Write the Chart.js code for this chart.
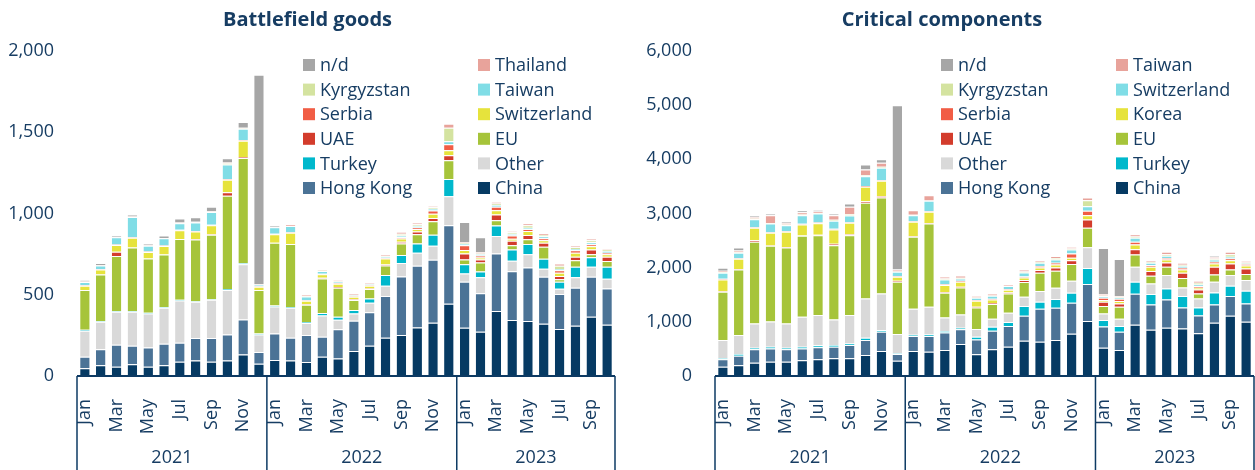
<!DOCTYPE html>
<html>
<head>
<meta charset="utf-8">
<title>Battlefield goods / Critical components</title>
<script src="https://cdn.jsdelivr.net/npm/chart.js@4.4.0/dist/chart.umd.min.js"></script>
<style>
  html, body { margin: 0; padding: 0; background: #ffffff; }
  #wrap { position: relative; width: 1255px; height: 470px; }
  canvas { position: absolute; top: 0; }
  #bfChart { left: 0; }
  #ccChart { left: 630px; }
</style>
</head>
<body>
<div id="wrap">
  <canvas id="bfChart" width="630" height="470"></canvas>
  <canvas id="ccChart" width="625" height="470"></canvas>
</div>
<script>
// categories
const monthNames = ['Jan', 'Feb', 'Mar', 'Apr', 'May', 'Jun', 'Jul', 'Aug', 'Sep', 'Oct', 'Nov', 'Dec'];
const years = ['2021', '2022', '2023'];
const monthsPerYear = [12, 12, 10];

// Battlefield goods (stack order, bottom to top)
const bfNames = ['China', 'Hong Kong', 'Other', 'Turkey', 'EU', 'UAE', 'Switzerland', 'Serbia', 'Taiwan', 'Kyrgyzstan', 'Thailand', 'n/d'];
const bfChina = [47, 66, 57, 72, 57, 66, 88, 96, 88, 96, 133, 76, 98, 96, 86, 119, 107, 154, 186, 236, 252, 299, 328, 445, 297, 273, 400, 344, 338, 322, 289, 309, 365, 316];
const bfHongKong = [72, 98, 136, 114, 119, 133, 117, 138, 146, 160, 215, 72, 164, 140, 166, 123, 180, 186, 207, 256, 361, 379, 387, 483, 283, 237, 354, 301, 330, 289, 215, 234, 246, 223];
const bfOther = [160, 170, 202, 209, 209, 221, 260, 223, 235, 273, 340, 108, 166, 184, 74, 131, 59, 45, 58, 63, 82, 80, 86, 178, 51, 97, 107, 64, 82, 49, 33, 64, 61, 59];
const bfTurkey = [5, 4, 5, 5, 4, 4, 5, 3, 3, 6, 7, 6, 6, 5, 6, 14, 19, 21, 26, 66, 49, 57, 68, 107, 57, 36, 65, 70, 63, 61, 43, 65, 59, 74];
const bfEU = [245, 287, 338, 391, 334, 324, 373, 380, 397, 574, 647, 267, 386, 388, 106, 213, 178, 61, 58, 59, 71, 58, 84, 115, 29, 56, 33, 26, 29, 74, 16, 41, 19, 35];
const bfUAE = [0, 0, 26, 0, 0, 0, 0, 3, 4, 22, 6, 0, 0, 0, 3, 4, 5, 5, 4, 6, 11, 16, 20, 31, 37, 18, 35, 27, 25, 25, 19, 21, 29, 27];
const bfSwitzerland = [26, 30, 42, 60, 40, 52, 54, 46, 55, 76, 100, 20, 52, 68, 22, 22, 20, 16, 16, 37, 20, 15, 25, 30, 21, 12, 26, 12, 26, 16, 20, 24, 20, 16];
const bfSerbia = [3, 3, 3, 3, 3, 3, 3, 3, 3, 5, 4, 3, 4, 4, 3, 3, 4, 3, 4, 4, 8, 10, 20, 37, 30, 13, 21, 21, 10, 12, 16, 16, 12, 8];
const bfTaiwan = [20, 22, 45, 125, 36, 44, 40, 52, 78, 90, 70, 9, 40, 38, 24, 17, 8, 5, 6, 8, 10, 10, 12, 19, 8, 8, 12, 10, 10, 12, 8, 8, 12, 12];
const bfKyrgyzstan = [0, 0, 0, 0, 0, 0, 2, 2, 2, 8, 3, 0, 0, 0, 3, 3, 3, 3, 3, 3, 12, 10, 8, 82, 4, 4, 8, 10, 14, 8, 20, 10, 12, 8];
const bfThailand = [4, 3, 3, 3, 3, 3, 3, 3, 3, 4, 3, 3, 3, 8, 5, 6, 6, 5, 6, 6, 10, 8, 8, 26, 7, 8, 11, 6, 13, 9, 14, 11, 10, 6];
const bfNd = [8, 12, 10, 12, 10, 15, 24, 28, 28, 26, 35, 1290, 8, 0, 0, 0, 0, 0, 0, 0, 0, 0, 0, 0, 123, 92, 0, 0, 0, 0, 0, 0, 0, 0];

// Critical components (stack order, bottom to top)
const ccNames = ['China', 'Hong Kong', 'Turkey', 'Other', 'EU', 'UAE', 'Korea', 'Serbia', 'Switzerland', 'Kyrgyzstan', 'Taiwan', 'n/d'];
const ccChina = [172, 197, 246, 264, 264, 289, 307, 326, 326, 387, 461, 283, 461, 449, 480, 590, 400, 492, 541, 652, 633, 664, 781, 1014, 523, 480, 947, 855, 891, 879, 787, 984, 1113, 1002];
const ccHongKong = [135, 178, 246, 246, 228, 221, 222, 215, 246, 277, 357, 123, 277, 289, 325, 271, 276, 344, 381, 461, 609, 596, 572, 683, 393, 338, 572, 467, 523, 387, 332, 338, 363, 338];
const ccTurkey = [25, 31, 31, 31, 31, 31, 37, 31, 30, 43, 30, 12, 24, 30, 25, 30, 49, 74, 74, 178, 129, 160, 184, 295, 117, 104, 221, 190, 203, 210, 147, 221, 190, 234];
const ccOther = [332, 350, 448, 467, 448, 553, 559, 473, 523, 725, 677, 357, 480, 511, 252, 246, 142, 147, 172, 172, 197, 209, 221, 387, 123, 135, 277, 197, 246, 159, 166, 197, 197, 197];
const ccEU = [891, 1211, 1507, 1396, 1402, 1494, 1475, 1371, 1475, 1765, 1770, 965, 1328, 1537, 455, 498, 399, 271, 357, 271, 338, 314, 308, 357, 135, 222, 227, 142, 154, 173, 93, 135, 104, 110];
const ccUAE = [8, 8, 30, 6, 10, 6, 8, 25, 19, 31, 25, 18, 10, 10, 12, 12, 12, 18, 18, 37, 49, 61, 73, 154, 80, 61, 98, 86, 79, 98, 73, 142, 111, 105];
const ccKorea = [220, 189, 228, 234, 279, 203, 214, 264, 209, 264, 283, 74, 267, 205, 129, 93, 111, 68, 49, 49, 49, 56, 44, 79, 31, 43, 86, 80, 56, 61, 31, 61, 61, 55];
const ccSerbia = [12, 12, 12, 12, 12, 12, 10, 12, 12, 18, 12, 12, 12, 12, 15, 18, 12, 12, 12, 18, 25, 31, 79, 80, 43, 43, 50, 31, 25, 31, 31, 31, 31, 24];
const ccSwitzerland = [111, 99, 148, 160, 111, 161, 168, 148, 123, 179, 228, 80, 111, 191, 90, 43, 44, 56, 56, 74, 61, 61, 74, 86, 31, 25, 73, 42, 42, 37, 31, 43, 31, 13];
const ccKyrgyzstan = [12, 8, 12, 10, 12, 12, 8, 18, 25, 18, 18, 6, 6, 6, 18, 12, 6, 6, 6, 18, 18, 25, 18, 111, 12, 12, 25, 18, 31, 18, 31, 18, 49, 18];
const ccTaiwan = [25, 35, 31, 144, 31, 43, 27, 87, 135, 105, 74, 37, 86, 98, 31, 44, 25, 37, 31, 37, 31, 36, 31, 49, 24, 13, 43, 31, 43, 37, 36, 25, 43, 31];
const ccNd = [55, 55, 31, 24, 31, 31, 30, 24, 62, 92, 67, 3031, 0, 0, 0, 0, 0, 0, 0, 0, 0, 0, 0, 0, 849, 682, 0, 0, 0, 0, 0, 18, 0, 0];

// y axis ticks
const bfTicks = [0, 500, 1000, 1500, 2000];
const ccTicks = [0, 1000, 2000, 3000, 4000, 5000, 6000];

// colours by stack position
const bfColors = ['#063a63', '#4b7396', '#d9d9d9', '#00b8cc', '#a6c43a', '#d33c2c', '#e6e33c', '#f15d45', '#80dde6', '#d4e3a0', '#e8a39b', '#a6a6a6'];
const ccColors = ['#063a63', '#4b7396', '#00b8cc', '#d9d9d9', '#a6c43a', '#d33c2c', '#e6e33c', '#f15d45', '#80dde6', '#d4e3a0', '#e8a39b', '#a6a6a6'];

const textColor = '#173d63';
const axisColor = '#0d3a63';
const fontFamily = '"Open Sans", "DejaVu Sans", sans-serif';

const months = [];
years.forEach((y, i) => {
    for (let m = 0; m < monthsPerYear[i]; m++) months.push(monthNames[m]);
});

// two-level month / year axis with the boxed year groups
const yearAxis = {
    id: 'yearAxis',
    afterDraw(chart) {
        const { ctx, chartArea } = chart;
        const x = chart.scales.x;
        const base = chartArea.bottom;
        const edges = [chartArea.left];
        let count = 0;
        monthsPerYear.forEach(n => {
            count += n;
            if (count < months.length) {
                edges.push((x.getPixelForValue(count - 1) + x.getPixelForValue(count)) / 2);
            } else {
                edges.push(chartArea.right);
            }
        });
        ctx.save();
        ctx.strokeStyle = axisColor;
        ctx.lineWidth = 2;
        ctx.beginPath();
        ctx.moveTo(chartArea.left, base);
        ctx.lineTo(chartArea.right, base);
        ctx.stroke();
        ctx.lineWidth = 1.5;
        edges.forEach(px => {
            ctx.beginPath();
            ctx.moveTo(px, base);
            ctx.lineTo(px, chart.height);
            ctx.stroke();
        });
        ctx.fillStyle = textColor;
        ctx.font = '18px ' + fontFamily;
        ctx.textAlign = 'center';
        ctx.textBaseline = 'middle';
        years.forEach((yr, i) => {
            ctx.fillText(yr, (edges[i] + edges[i + 1]) / 2, chart.height - 12);
        });
        ctx.restore();
    }
};

// legend in two columns inside the plot, reversed series order
const boxLegend = {
    id: 'boxLegend',
    afterDraw(chart, args, opts) {
        const ctx = chart.ctx;
        const items = chart.data.datasets.slice().reverse();
        ctx.save();
        ctx.font = '18px ' + fontFamily;
        ctx.textBaseline = 'middle';
        ctx.textAlign = 'left';
        items.forEach((ds, i) => {
            const px = opts.x + (i % 2) * opts.colGap;
            const py = opts.y + Math.floor(i / 2) * opts.rowGap;
            ctx.fillStyle = ds.backgroundColor;
            ctx.fillRect(px, py - 6, 12, 12);
            ctx.fillStyle = textColor;
            ctx.fillText(ds.label, px + 17, py + 1);
        });
        ctx.restore();
    }
};

function makeChart(canvasId, title, names, series, colors, ticks, axisWidth, padRight, legendX) {
    const ctx = document.getElementById(canvasId);
    return new Chart(ctx, {
        type: 'bar',
        data: {
            labels: months,
            datasets: names.map((name, i) => ({
                label: name,
                data: series[i],
                backgroundColor: colors[i],
                borderColor: 'rgba(255, 255, 255, 0.85)',
                borderWidth: { top: 1, bottom: 0, left: 0, right: 0 },
                borderSkipped: false,
                categoryPercentage: 1.0,
                barPercentage: 0.6
            }))
        },
        options: {
            responsive: false,
            animation: false,
            layout: { padding: { left: 0, right: padRight, top: 0, bottom: 0 } },
            scales: {
                x: {
                    stacked: true,
                    grid: { display: false },
                    border: { display: false },
                    ticks: {
                        autoSkip: false,
                        minRotation: 90,
                        maxRotation: 90,
                        padding: 15,
                        color: textColor,
                        font: { family: fontFamily, size: 18 },
                        callback: (v, i) => (i % 2 === 0 ? months[i] : '')
                    },
                    afterFit(scale) {
                        scale.height = 94;
                        scale.paddingLeft = 0;
                        scale.paddingRight = 0;
                    }
                },
                y: {
                    stacked: true,
                    min: ticks[0],
                    max: ticks[ticks.length - 1],
                    grid: { display: false },
                    border: { display: false },
                    afterBuildTicks(scale) {
                        scale.ticks = ticks.map(v => ({ value: v }));
                    },
                    ticks: {
                        padding: 15,
                        color: textColor,
                        font: { family: fontFamily, size: 18 },
                        callback: v => v.toLocaleString('en-US')
                    },
                    afterFit(scale) {
                        scale.width = axisWidth;
                        scale.paddingTop = 0;
                        scale.paddingBottom = 0;
                    }
                }
            },
            plugins: {
                legend: { display: false },
                tooltip: { enabled: false },
                title: {
                    display: true,
                    text: title,
                    color: textColor,
                    font: { family: fontFamily, size: 20, weight: 'bold' },
                    padding: { top: 8, bottom: 19 }
                },
                boxLegend: { x: legendX, y: 65, colGap: 175, rowGap: 24.6 }
            }
        },
        plugins: [yearAxis, boxLegend]
    });
}

makeChart('bfChart', 'Battlefield goods', bfNames,
    [bfChina, bfHongKong, bfOther, bfTurkey, bfEU, bfUAE, bfSwitzerland, bfSerbia, bfTaiwan, bfKyrgyzstan, bfThailand, bfNd],
    bfColors, bfTicks, 77, 15, 303);

makeChart('ccChart', 'Critical components', ccNames,
    [ccChina, ccHongKong, ccTurkey, ccOther, ccEU, ccUAE, ccKorea, ccSerbia, ccSwitzerland, ccKyrgyzstan, ccTaiwan, ccNd],
    ccColors, ccTicks, 85, 1, 311);
</script>
</body>
</html>
